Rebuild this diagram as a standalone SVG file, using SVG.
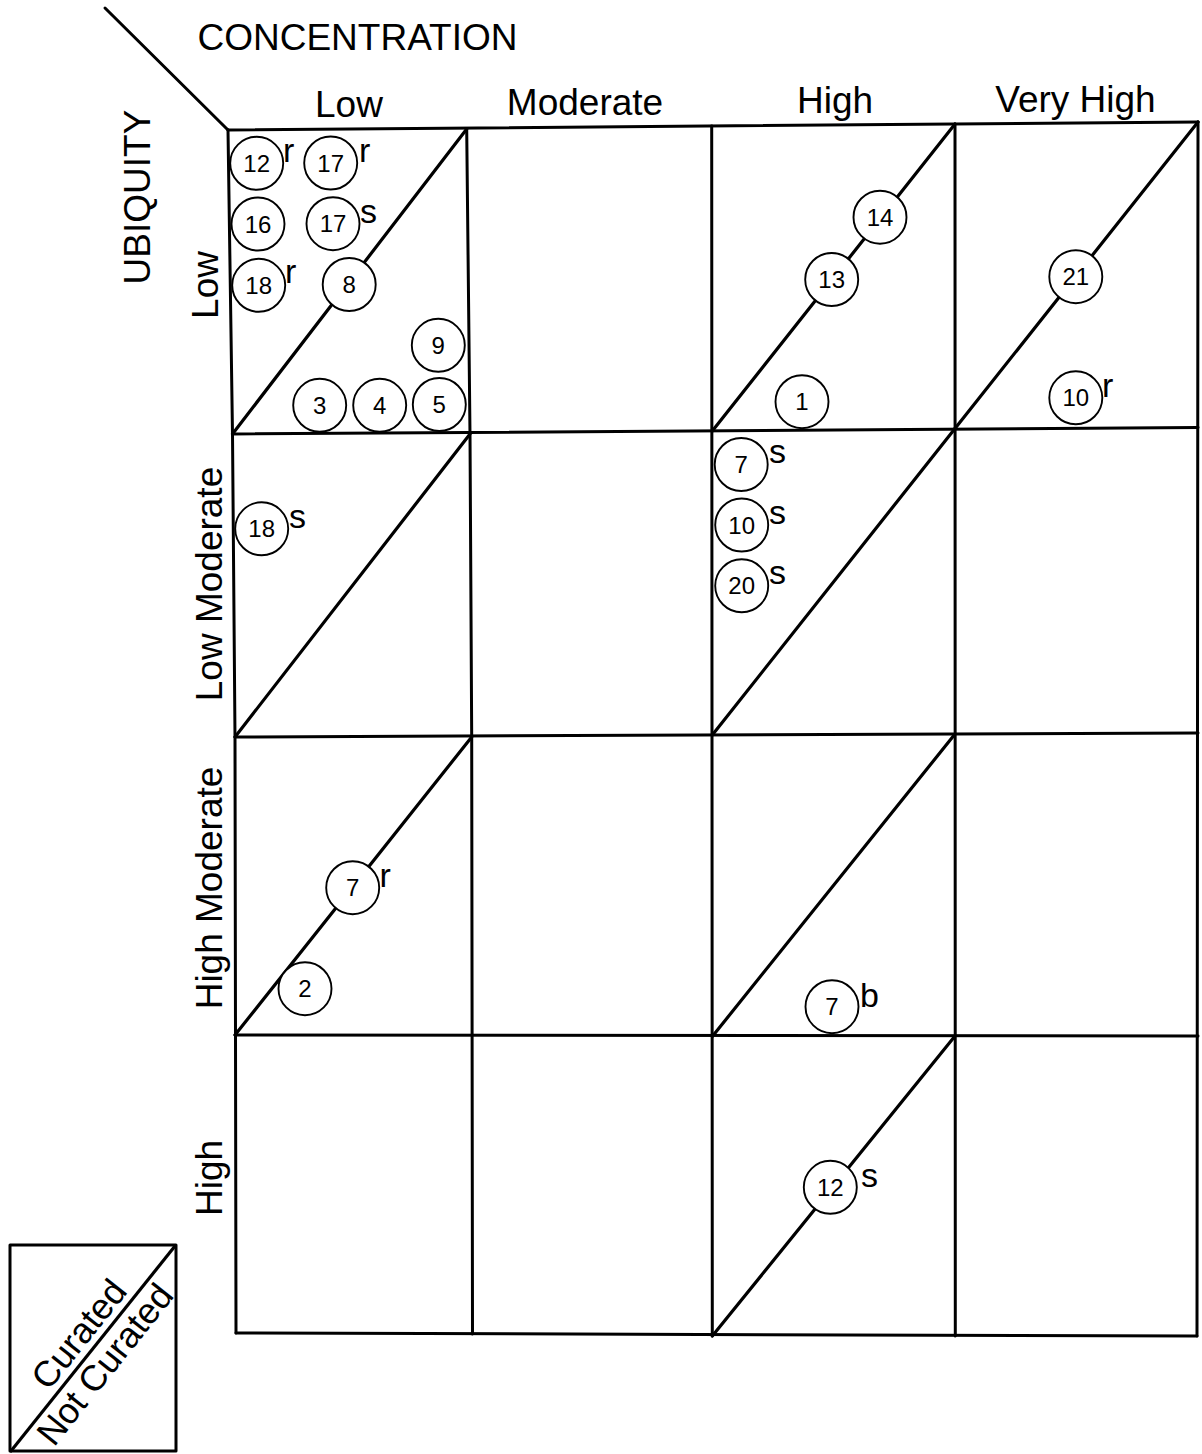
<svg xmlns="http://www.w3.org/2000/svg" width="1202" height="1454" viewBox="0 0 1202 1454">
<style>
.ln{fill:none;stroke:#000;stroke-width:3;stroke-linecap:round;stroke-linejoin:round}
.dg{fill:none;stroke:#000;stroke-width:3.2;stroke-linecap:round}
.c{fill:#fff;stroke:#000;stroke-width:1.9}
.n{font-family:"Liberation Sans",Arial,sans-serif;font-size:24px;text-anchor:middle;fill:#000}
.l{font-family:"Liberation Sans",Arial,sans-serif;font-size:34px;fill:#000}
.h{font-family:"Liberation Sans",Arial,sans-serif;font-size:37px;text-anchor:middle;fill:#000}
.g{font-family:"Liberation Sans",Arial,sans-serif;font-size:36px;text-anchor:middle;fill:#000}
</style>
<rect width="1202" height="1454" fill="#fff"/>
<g id="grid">
<line class="ln" x1="105" y1="8" x2="228" y2="130"/>
<line class="ln" x1="228" y1="130" x2="1198" y2="122"/>
<line class="ln" x1="232.5" y1="434" x2="1198" y2="427.5"/>
<line class="ln" x1="235" y1="737" x2="1198" y2="733"/>
<line class="ln" x1="235" y1="1035" x2="1198" y2="1036"/>
<line class="ln" x1="236" y1="1333" x2="1197" y2="1336"/>
<polyline class="ln" points="228,130 232.5,434 235,737 236,1333"/>
<polyline class="ln" points="466.7,129 470,434 471.7,737 472.5,1334"/>
<line class="ln" x1="711.7" y1="126" x2="712.3" y2="1336"/>
<line class="ln" x1="955" y1="124" x2="955.3" y2="1336"/>
<line class="ln" x1="1198" y1="122" x2="1197" y2="1336"/>
<line class="dg" x1="232.5" y1="434" x2="466.7" y2="129"/>
<line class="dg" x1="712.3" y1="431" x2="955" y2="124"/>
<line class="dg" x1="955" y1="428.5" x2="1198" y2="122"/>
<line class="dg" x1="235" y1="737" x2="470" y2="434"/>
<line class="dg" x1="712.3" y1="735" x2="955" y2="428.5"/>
<line class="dg" x1="235" y1="1035" x2="471.7" y2="737"/>
<line class="dg" x1="712.3" y1="1036.5" x2="955" y2="734"/>
<line class="dg" x1="712.3" y1="1336" x2="955" y2="1036"/>
</g>
<g id="labels">
<text class="h" x="357.5" y="50">CONCENTRATION</text>
<text class="h" x="349" y="117">Low</text>
<text class="h" x="585" y="115">Moderate</text>
<text class="h" x="835" y="113">High</text>
<text class="h" x="1075.5" y="112">Very High</text>
<text class="h" transform="translate(150,197) rotate(-90)">UBIQUITY</text>
<text class="h" transform="translate(218,285) rotate(-90)">Low</text>
<text class="h" transform="translate(222,584) rotate(-90)">Low Moderate</text>
<text class="h" transform="translate(222,888) rotate(-90)">High Moderate</text>
<text class="h" transform="translate(222,1178) rotate(-90)">High</text>
</g>
<g id="legend">
<rect class="ln" x="10" y="1245" width="166" height="206"/>
<line class="dg" x1="11" y1="1451" x2="175" y2="1246"/>
<text class="g" transform="translate(88.5,1341.8) rotate(-51.34)">Curated</text>
<text class="g" transform="translate(114.5,1372) rotate(-51.34)">Not Curated</text>
</g>
<g id="n12r"><circle class="c" cx="256.7" cy="163.3" r="26.5"/><text class="n" x="256.7" y="171.8">12</text><text class="l" x="283" y="162">r</text></g>
<g id="n17r"><circle class="c" cx="330.7" cy="163" r="26.5"/><text class="n" x="330.7" y="171.5">17</text><text class="l" x="359" y="162">r</text></g>
<g id="n16"><circle class="c" cx="258" cy="224" r="26.5"/><text class="n" x="258" y="232.5">16</text></g>
<g id="n17s"><circle class="c" cx="333" cy="223.7" r="26.5"/><text class="n" x="333" y="232.2">17</text><text class="l" x="360" y="222.7">s</text></g>
<g id="n18r"><circle class="c" cx="258.7" cy="285.3" r="26.5"/><text class="n" x="258.7" y="293.8">18</text><text class="l" x="285" y="283.3">r</text></g>
<g id="n8"><circle class="c" cx="349.2" cy="284.5" r="26.5"/><text class="n" x="349.2" y="293">8</text></g>
<g id="n9"><circle class="c" cx="438.3" cy="345.3" r="26.5"/><text class="n" x="438.3" y="353.8">9</text></g>
<g id="n3"><circle class="c" cx="319.7" cy="405.3" r="26.5"/><text class="n" x="319.7" y="413.8">3</text></g>
<g id="n4"><circle class="c" cx="379.7" cy="405.3" r="26.5"/><text class="n" x="379.7" y="413.8">4</text></g>
<g id="n5"><circle class="c" cx="439.3" cy="404.5" r="26.5"/><text class="n" x="439.3" y="413">5</text></g>
<g id="n14"><circle class="c" cx="880" cy="217.2" r="26.5"/><text class="n" x="880" y="225.7">14</text></g>
<g id="n13"><circle class="c" cx="831.7" cy="279.5" r="26.5"/><text class="n" x="831.7" y="288">13</text></g>
<g id="n1"><circle class="c" cx="802" cy="401.7" r="26.5"/><text class="n" x="802" y="410.2">1</text></g>
<g id="n21"><circle class="c" cx="1075.8" cy="276.7" r="26.5"/><text class="n" x="1075.8" y="285.2">21</text></g>
<g id="n10r"><circle class="c" cx="1075.8" cy="397.8" r="26.5"/><text class="n" x="1075.8" y="406.3">10</text><text class="l" x="1102" y="396.5">r</text></g>
<g id="n7s"><circle class="c" cx="741.2" cy="464.5" r="26.5"/><text class="n" x="741.2" y="473">7</text><text class="l" x="769" y="463">s</text></g>
<g id="n10s"><circle class="c" cx="741.7" cy="525" r="26.5"/><text class="n" x="741.7" y="533.5">10</text><text class="l" x="769" y="524">s</text></g>
<g id="n20s"><circle class="c" cx="741.7" cy="585.8" r="26.5"/><text class="n" x="741.7" y="594.3">20</text><text class="l" x="769" y="584">s</text></g>
<g id="n18s"><circle class="c" cx="261.7" cy="528.8" r="26.5"/><text class="n" x="261.7" y="537.3">18</text><text class="l" x="289" y="527.7">s</text></g>
<g id="n7r"><circle class="c" cx="352.7" cy="887.7" r="26.5"/><text class="n" x="352.7" y="896.2">7</text><text class="l" x="379.5" y="886.7">r</text></g>
<g id="n2"><circle class="c" cx="305" cy="988.7" r="26.5"/><text class="n" x="305" y="997.2">2</text></g>
<g id="n7b"><circle class="c" cx="832" cy="1006.7" r="26.5"/><text class="n" x="832" y="1015.2">7</text><text class="l" x="860" y="1006.7">b</text></g>
<g id="n12s"><circle class="c" cx="830.3" cy="1187.3" r="26.5"/><text class="n" x="830.3" y="1195.8">12</text><text class="l" x="861" y="1187.3">s</text></g>
</svg>
